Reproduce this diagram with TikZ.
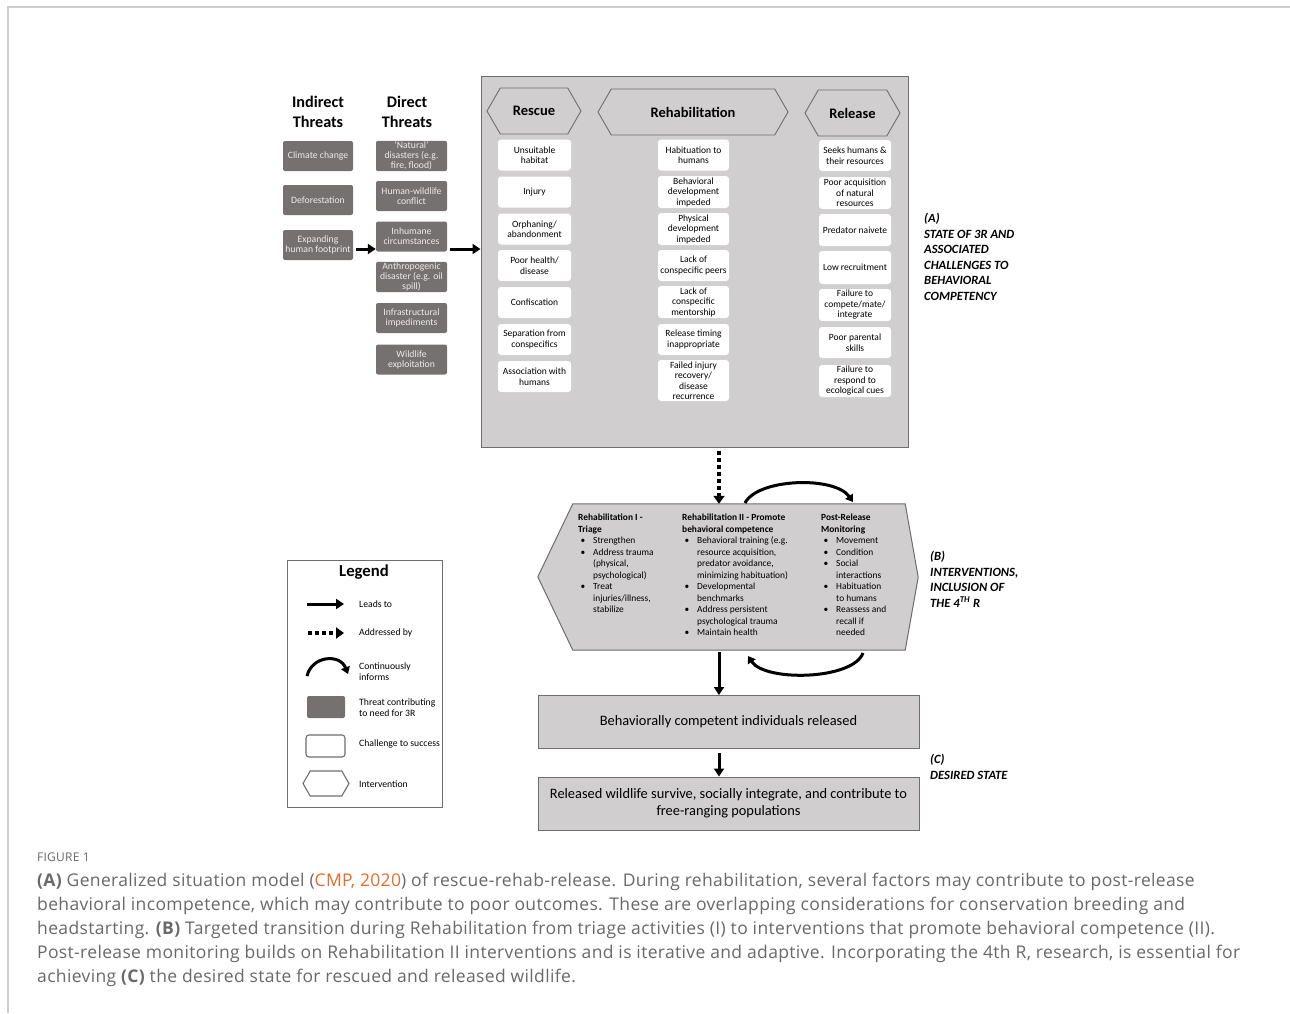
\documentclass[tikz,border=0pt]{standalone}
\usepackage{fontspec}
\setmainfont{Carlito}
\newfontfamily\capfont[LetterSpace=2]{Open Sans}
\usepackage{tikz}
\usetikzlibrary{arrows.meta, calc, shapes, shapes.geometric, shapes.symbols, positioning}
\definecolor{threatgray}{RGB}{118,113,113}
\definecolor{panelgray}{RGB}{208,206,206}
\definecolor{edgegray}{RGB}{110,110,110}
\definecolor{threattext}{RGB}{236,236,236}
\definecolor{capgray}{RGB}{105,105,105}
\definecolor{cmporange}{RGB}{231,108,42}
\definecolor{framegray}{RGB}{205,205,205}
\newcommand{\fsz}[2]{\fontsize{#1}{#2}\selectfont}
\newcommand{\bitem}{\hspace*{2.5pt}\makebox[12.5pt][l]{\textbullet}}
\newcommand{\bcont}{\hspace*{15pt}}

\begin{document}
\begin{tikzpicture}[x=1pt, y=-1pt,
    threat/.style={fill=threatgray, rounded corners=2pt, minimum width=70, minimum height=30, inner sep=1pt, align=center, text=threattext, font=\fsz{9.7}{10}},
    chall/.style={fill=white, rounded corners=3pt, minimum height=31, inner sep=1pt, align=center, font=\fsz{9.5}{10.5}},
    phase/.style={signal, signal to=west and east, signal pointer angle=120, draw=edgegray, line width=0.9, fill=panelgray, minimum height=46, inner sep=1pt, font=\bfseries\fsz{14.5}{16}},
    panel/.style={draw=edgegray, fill=panelgray, line width=1},
    leadsto/.style={line width=3, -{Triangle[length=8pt, width=10pt]}},
    addressed/.style={line width=3.5, dash pattern=on 4pt off 3pt, -{Triangle[length=8pt, width=11pt]}},
    informs/.style={line width=3, -{Triangle[length=7pt, width=9pt]}},
    sidelabel/.style={anchor=north west, inner sep=0, align=left, font=\bfseries\itshape\fsz{12.6}{15.5}},
    hexcol/.style={anchor=north west, inner sep=0, align=left, font=\fsz{9.4}{11.5}},
    legtext/.style={anchor=west, inner sep=0, align=left, font=\fsz{9.7}{11}}]
    \useasboundingbox (0,0) rectangle (1290,1013);
    \fill[white] (0,0) rectangle (1290,1013);
    \draw[framegray, line width=1.5] (8,1013) -- (8,7) -- (1290,7);

    \node[font=\bfseries\fsz{16.2}{19.5}, align=center] (indhead) at (318,112) {Indirect\\Threats};
    \node[font=\bfseries\fsz{16.2}{19.5}, align=center] (dirhead) at (407,112) {Direct\\Threats};

    \node[threat] (ind1) at (318,156) {Climate change};
    \node[threat] (ind2) at (318,200) {Deforestation};
    \node[threat] (ind3) at (318,245) {Expanding\\human footprint};

    \node[threat, minimum width=71] (dir1) at (411.5,156) {`Natural'\\disasters (e.g.\\fire, flood)};
    \node[threat, minimum width=71] (dir2) at (411.5,196) {Human-wildlife\\conflict};
    \node[threat, minimum width=71] (dir3) at (411.5,236.5) {Inhumane\\circumstances};
    \node[threat, minimum width=71] (dir4) at (411.5,277) {Anthropogenic\\disaster (e.g. oil\\spill)};
    \node[threat, minimum width=71] (dir5) at (411.5,318) {Infrastructural\\impediments};
    \node[threat, minimum width=71] (dir6) at (411.5,359.5) {Wildlife\\exploitation};

    \node[panel, minimum width=427, minimum height=371, inner sep=0] (state) at (694.5,261.5) {};

    \coordinate (flow) at ([yshift=-4pt]ind3.east);
    \draw[leadsto, shorten <=3pt] (flow) -- (flow -| dir3.west);
    \draw[leadsto, shorten <=3pt] (flow -| dir3.east) -- (flow -| state.west);

    \node[phase, minimum width=94] (rescue) at (534,111) {Rescue};
    \node[phase, minimum width=190] (rehab) at (693,112) {Rehabilitation};
    \node[phase, minimum width=95] (release) at (852.5,113) {Release};

    \node[chall, minimum width=73] (r1) at (534.5,155) {Unsuitable\\habitat};
    \node[chall, minimum width=73] (r2) at (534.5,192) {Injury};
    \node[chall, minimum width=73] (r3) at (534.5,229) {Orphaning/\\abandonment};
    \node[chall, minimum width=73] (r4) at (534.5,265.5) {Poor health/\\disease};
    \node[chall, minimum width=73] (r5) at (534.5,302.5) {Confiscation};
    \node[chall, minimum width=73] (r6) at (534.5,339.5) {Separation from\\conspecifics};
    \node[chall, minimum width=73] (r7) at (534.5,376.5) {Association with\\humans};

    \node[chall, minimum width=71] (h1) at (693.5,155) {Habituation to\\humans};
    \node[chall, minimum width=71, minimum height=32] (h2) at (693.5,192) {Behavioral\\development\\impeded};
    \node[chall, minimum width=71, minimum height=32] (h3) at (693.5,229) {Physical\\development\\impeded};
    \node[chall, minimum width=71] (h4) at (693.5,265.5) {Lack of\\conspecific peers};
    \node[chall, minimum width=71, minimum height=32] (h5) at (693.5,302) {Lack of\\conspecific\\mentorship};
    \node[chall, minimum width=71] (h6) at (693.5,339.5) {Release timing\\inappropriate};
    \node[chall, minimum width=71, minimum height=41] (h7) at (693.5,380.5) {Failed injury\\recovery/\\disease\\recurrence};

    \node[chall, minimum width=72] (s1) at (855,155.5) {Seeks humans \&\\their resources};
    \node[chall, minimum width=72, minimum height=32] (s2) at (855,193) {Poor acquisition\\of natural\\resources};
    \node[chall, minimum width=72, minimum height=32] (s3) at (855,230) {Predator naivete};
    \node[chall, minimum width=72, minimum height=33] (s4) at (855,267.5) {Low recruitment};
    \node[chall, minimum width=72, minimum height=32] (s5) at (855,305) {Failure to\\compete/mate/\\integrate};
    \node[chall, minimum width=72] (s6) at (855,342.5) {Poor parental\\skills};
    \node[chall, minimum width=72, minimum height=32] (s7) at (855,381) {Failure to\\respond to\\ecological cues};

    \node[sidelabel] (labA) at (924,213) {(A)\\STATE OF 3R AND\\ASSOCIATED\\CHALLENGES TO\\BEHAVIORAL\\COMPETENCY};

    \node[minimum width=332, minimum height=146, inner sep=0] (interv) at (739,577) {};
    \draw[panel] (interv.north west) -- ++(-35,73) -- (interv.south west) -- (interv.south east) -- ++(13,-73) -- (interv.north east) -- cycle;

    \node[hexcol] (triage) at (578,514) {\textbf{Rehabilitation I -}\\\textbf{Triage}\\
        \bitem Strengthen\\\bitem Address trauma\\\bcont (physical,\\\bcont psychological)\\
        \bitem Treat\\\bcont injuries/illness,\\\bcont stabilize};
    \node[hexcol] (promote) at (682,514) {\textbf{Rehabilitation II - Promote}\\\textbf{behavioral competence}\\
        \bitem Behavioral training (e.g.\\\bcont resource acquisition,\\\bcont predator avoidance,\\\bcont minimizing habituation)\\
        \bitem Developmental\\\bcont benchmarks\\\bitem Address persistent\\\bcont psychological trauma\\\bitem Maintain health};
    \node[hexcol] (monitor) at (821,514) {\textbf{Post-Release}\\\textbf{Monitoring}\\
        \bitem Movement\\\bitem Condition\\\bitem Social\\\bcont interactions\\\bitem Habituation\\\bcont to humans\\
        \bitem Reassess and\\\bcont recall if\\\bcont needed};

    \node[sidelabel] (labB) at (930,551) {(B)\\INTERVENTIONS,\\INCLUSION OF\\THE 4\textsuperscript{TH} R};

    \node[panel, minimum width=381, minimum height=53, inner sep=0, align=center, font=\fsz{14.4}{17}] (comp) at (728.5,722) {Behaviorally competent individuals released};
    \node[panel, minimum width=381, minimum height=53, inner sep=0, align=center, font=\fsz{14.4}{17}] (surv) at (728.5,803.5) {Released wildlife survive, socially integrate, and contribute to\\free-ranging populations};

    \node[sidelabel] (labC) at (930,754) {(C)\\DESIRED STATE};

    \coordinate (axis) at (719,0);
    \draw[addressed, shorten <=3pt] (state.south -| axis) -- (interv.north -| axis);
    \draw[leadsto, shorten <=2pt] (interv.south -| axis) -- (comp.north -| axis);
    \draw[leadsto, shorten <=4pt] (comp.south -| axis) -- (surv.north -| axis);

    \coordinate (loopa) at (745,503);
    \coordinate (loopb) at (853,502);
    \coordinate (loopc) at (863,653);
    \coordinate (loopd) at (748,656);
    \draw[informs] (loopa) .. controls (758,478) and (835,476) .. (loopb);
    \draw[informs] (loopc) .. controls (853,680) and (765,682) .. (loopd);

    \node[draw=edgegray, fill=white, minimum width=155, minimum height=247, inner sep=0] (legend) at (364.5,683.5) {};
    \node[font=\bfseries\fsz{16.7}{18}] (leghead) at (364,572) {Legend};
    \node[legtext] (lg1) at (359,604) {Leads to};
    \node[legtext] (lg2) at (359,633) {Addressed by};
    \node[legtext] (lg3) at (359,671.5) {Continuously\\informs};
    \node[legtext] (lg4) at (359,708) {Threat contributing\\to need for 3R};
    \node[legtext] (lg5) at (359,744) {Challenge to success};
    \node[legtext] (lg6) at (359,784) {Intervention};
    \draw[leadsto] ($(lg1.west)+(-52,0)$) -- ($(lg1.west)+(-15,0)$);
    \draw[addressed] ($(lg2.west)+(-51,0)$) -- ($(lg2.west)+(-15,0)$);
    \draw[informs] ($(lg3.west)+(-52,4.5)$) .. controls ($(lg3.west)+(-47,-16)$) and ($(lg3.west)+(-19,-18)$) .. ($(lg3.west)+(-11,2.5)$);
    \node[threat, minimum width=38, minimum height=22] (lgthreat) at (326,707) {};
    \node[chall, draw=edgegray, line width=1.1, minimum width=39, minimum height=22] (lgchall) at (325.5,746) {};
    \node[phase, fill=white, line width=1.1, minimum width=46, minimum height=25] (lghex) at (326,783.5) {};

    \node[anchor=west, inner sep=0, text=capgray, font=\capfont\fsz{12}{13}] (figlabel) at (37,857) {FIGURE 1};
    \node[anchor=north west, inner sep=0, align=left, text=capgray, font=\capfont\fsz{17.5}{24}] (caption) at (37,873) {%
        {\bfseries (A)} Generalized situation model (\textcolor{cmporange}{CMP, 2020}) of rescue-rehab-release. During rehabilitation, several factors may contribute to post-release\\
        behavioral incompetence, which may contribute to poor outcomes. These are overlapping considerations for conservation breeding and\\
        headstarting. {\bfseries (B)} Targeted transition during Rehabilitation from triage activities (I) to interventions that promote behavioral competence (II).\\
        Post-release monitoring builds on Rehabilitation II interventions and is iterative and adaptive. Incorporating the 4th R, research, is essential for\\
        achieving {\bfseries (C)} the desired state for rescued and released wildlife.};
\end{tikzpicture}
\end{document}
